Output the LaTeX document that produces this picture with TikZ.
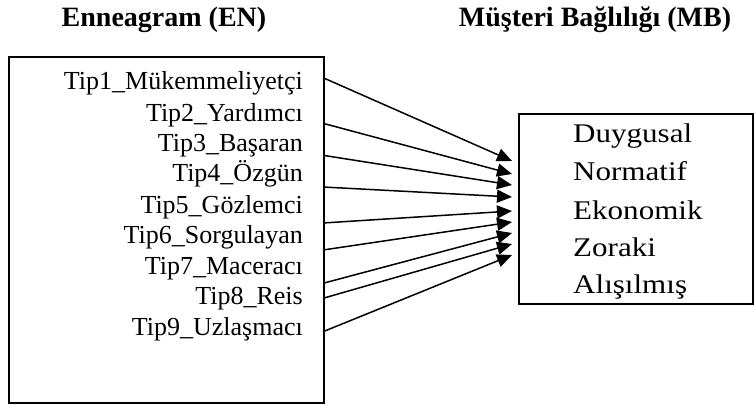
\documentclass[tikz,border=0pt]{standalone}
\usepackage{fontspec}
\setmainfont{Liberation Serif}
\newfontfamily\palfont[FakeStretch=1.15]{Liberation Serif}
\usetikzlibrary{arrows.meta}
\begin{document}
\begin{tikzpicture}[x=1pt,y=-1pt,
  boxstyle/.style={draw,line width=1.7pt,inner sep=0pt,anchor=north west},
  headstyle/.style={font=\fontsize{28}{32}\selectfont\bfseries,anchor=base,inner sep=0pt},
  tiplabel/.style={font=\fontsize{26}{30}\selectfont,anchor=base east,inner sep=0pt},
  mblabel/.style={font=\palfont\fontsize{27}{32}\selectfont,anchor=base west,inner sep=0pt},
  arr/.style={line width=1.5pt,-{Triangle[length=15pt,width=13pt]}}]
\useasboundingbox (0,0) rectangle (754,406);
% headings
\node[headstyle] (hEN) at (164,27) {Enneagram (EN)};
\node[headstyle] (hMB) at (595,27) {Müşteri Bağlılığı (MB)};
% boxes
\node[boxstyle,minimum width=315pt,minimum height=346pt] (EN) at (8,56) {};
\node[boxstyle,minimum width=234pt,minimum height=190pt] (MB) at (518,113) {};
% left labels
\node[tiplabel] (l1) at (303,90) {Tip1\_Mükemmeliyetçi};
\node[tiplabel] (l2) at (303,122) {Tip2\_Yardımcı};
\node[tiplabel] (l3) at (303,152) {Tip3\_Başaran};
\node[tiplabel] (l4) at (303,182) {Tip4\_Özgün};
\node[tiplabel] (l5) at (303,213) {Tip5\_Gözlemci};
\node[tiplabel] (l6) at (303,243) {Tip6\_Sorgulayan};
\node[tiplabel] (l7) at (303,274) {Tip7\_Maceracı};
\node[tiplabel] (l8) at (303,304) {Tip8\_Reis};
\node[tiplabel] (l9) at (303,335) {Tip9\_Uzlaşmacı};
% right labels
\node[mblabel] (m1) at (573,143) {Duygusal};
\node[mblabel] (m2) at (573,181) {Normatif};
\node[mblabel] (m3) at (573,219) {Ekonomik};
\node[mblabel] (m4) at (573,256) {Zoraki};
\node[mblabel] (m5) at (573,293) {Alışılmış};
% arrow endpoints
\coordinate (s1) at (323,77.7);
\coordinate (s2) at (323,123.3);
\coordinate (s3) at (323,155.3);
\coordinate (s4) at (323,187);
\coordinate (s5) at (323,223);
\coordinate (s6) at (323,250);
\coordinate (s7) at (323,283.3);
\coordinate (s8) at (323,298.3);
\coordinate (s9) at (323,331.7);
\coordinate (t1) at (512,161);
\coordinate (t2) at (512,174);
\coordinate (t3) at (512,185);
\coordinate (t4) at (512,197);
\coordinate (t5) at (512,211);
\coordinate (t6) at (512,222);
\coordinate (t7) at (512,233);
\coordinate (t8) at (512,244);
\coordinate (t9) at (512,255);
\foreach \i in {1,...,9} {\draw[arr] (s\i) -- (t\i);}
\end{tikzpicture}
\end{document}
